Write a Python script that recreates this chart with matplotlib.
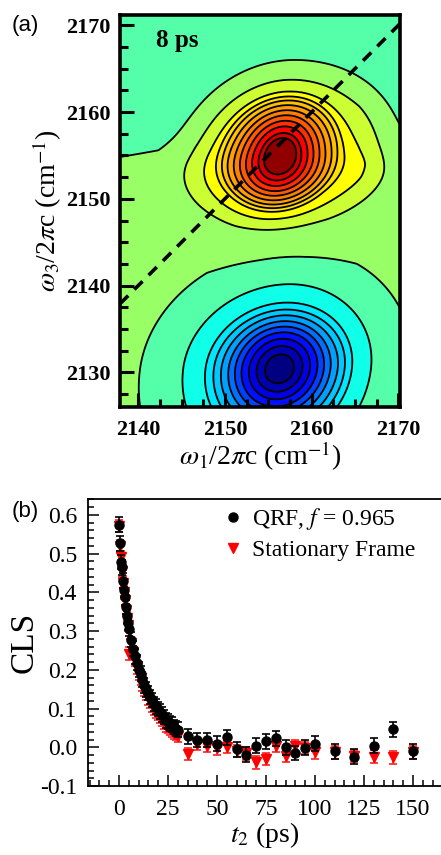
import numpy as np
import matplotlib
matplotlib.use("Agg")
import matplotlib.pyplot as plt
from matplotlib.colors import ListedColormap, BoundaryNorm
from matplotlib.lines import Line2D

plt.rcParams['mathtext.fontset'] = 'stix'
SERIF = ['Liberation Serif', 'DejaVu Serif']
SANS = ['Liberation Sans', 'DejaVu Sans']

# ---------------- panel (a): 2D IR spectrum (contour radii) ----------------
w1_range = [2137.9, 2170.2]
w3_range = [2126.0, 2171.2]
w_ticks = [2130, 2140, 2150, 2160, 2170]
diag = [2137.9, 2171.0]
waiting_label = '8 ps'

scale_knots = [0, 3, 7, 10, 60]      # radius knots for the direction-dependent widths

# positive peak: centre, radial level profile, widths (left, right, up, down), shear
pos_center = [2156.4, 2155.0]
pos_r = [0, 1.75, 2.29, 3.05, 3.73, 4.42, 5.07, 5.75, 6.4, 6.97, 7.6, 9.0, 11.0, 13.5, 18, 60]
pos_v = [13.0, 11.5, 10.5, 9.5, 8.5, 7.5, 6.5, 5.5, 4.5, 3.5, 2.5, 1.5, 0.55, 0.2, 0.05, 0.0]
pos_left = [0.92, 0.95, 1.0, 1.05, 1.05]
pos_right = [0.92, 0.95, 1.0, 1.2, 1.15]
pos_up = [1.14, 1.1, 0.97, 0.97, 0.97]
pos_down = [1.1, 1.0, 0.85, 0.8, 0.8]
pos_shear = 0.15

# negative peak
neg_center = [2156.3, 2130.4]
neg_r = [0, 1.71, 2.67, 3.54, 4.38, 5.14, 5.9, 6.74, 7.6, 8.57, 11.2, 14.7, 20, 30, 60]
neg_v = [-12.0, -10.5, -9.5, -8.5, -7.5, -6.5, -5.5, -4.5, -3.5, -2.5, -1.5, -0.65, -0.2,
         0.0, 0.0]
neg_left = [1.0, 1.0, 1.0, 1.0, 1.0]
neg_right = [1.0, 1.0, 1.0, 0.95, 0.85]
neg_up = [1.0, 1.0, 0.9, 0.88, 0.88]
neg_down = [1.0, 1.0, 1.0, 1.0, 1.0]
neg_shear = 0.12

plateau = [1.0, 2154.5, 0.0, 1.3]   # level, upper edge w3 (at 2154), edge slope, softness

band_colors = ['#000080', '#0000b0', '#0000e0', '#0010ff', '#0040ff', '#0070ff',
               '#00a0ff', '#00c8ff', '#00e8ff', '#10ffe8', '#55ffaa', '#99ff66',
               '#ccff33', '#ffff00', '#ffe000', '#ffc000', '#ffa000', '#ff8000',
               '#ff5a00', '#ff3000', '#ff0000', '#d00000', '#900000']
band_min = -10   # index of first colour band (zero band = '#55ffaa')


def radial(X, Y, center, left, right, up, down, shear):
    dy = Y - center[1]
    dx = X - center[0] - shear * dy
    r0 = np.sqrt(dx ** 2 + dy ** 2)
    sx = np.where(dx < 0, np.interp(r0, scale_knots, left), np.interp(r0, scale_knots, right))
    sy = np.where(dy >= 0, np.interp(r0, scale_knots, up), np.interp(r0, scale_knots, down))
    return np.sqrt((dx / sx) ** 2 + (dy / sy) ** 2)


x = np.linspace(w1_range[0], w1_range[1], 500)
y = np.linspace(w3_range[0], w3_range[1], 600)
X, Y = np.meshgrid(x, y)
Z = np.interp(radial(X, Y, pos_center, pos_left, pos_right, pos_up, pos_down, pos_shear),
              pos_r, pos_v)
Z = Z + np.interp(radial(X, Y, neg_center, neg_left, neg_right, neg_up, neg_down, neg_shear),
                  neg_r, neg_v)
edge = plateau[1] + plateau[2] * (X - 2154.0)
Z = Z + plateau[0] / (1 + np.exp((Y - edge) / plateau[3]))

nb = len(band_colors)
levels = np.arange(band_min, band_min + nb + 1) - 0.5
cmap = ListedColormap(band_colors)
norm = BoundaryNorm(levels, nb)

fig = plt.figure(figsize=(4.41, 8.55), dpi=100)

axa = fig.add_axes([120 / 441, 1 - 407 / 855, 280 / 441, 392 / 855])
Zc = np.clip(Z, levels[0] + 0.01, levels[-1] - 0.01)
axa.contourf(X, Y, Zc, levels=levels, cmap=cmap, norm=norm)
axa.contour(X, Y, Z, levels=levels[1:-1], colors='black', linewidths=1.3, linestyles='solid')
axa.plot(diag, diag, color='black', lw=2.6, ls=(0, (3.2, 2.4)))
axa.set_xlim(w1_range)
axa.set_ylim(w3_range)
axa.set_xticks([t for t in w_ticks if w1_range[0] <= t <= w1_range[1]])
axa.set_yticks(w_ticks)
axa.set_xticks(np.arange(2140, 2170.1, 2.5), minor=True)
axa.set_yticks(np.arange(2127.5, 2170.1, 2.5), minor=True)
axa.tick_params(which='both', direction='in', top=False, right=False, width=2.2, colors='black')
axa.tick_params(which='major', length=10)
axa.tick_params(which='minor', length=5.5)
axa.tick_params(axis='y', pad=7)
axa.tick_params(axis='x', pad=9)
for lab in axa.get_xticklabels() + axa.get_yticklabels():
    lab.set_fontfamily(SERIF)
    lab.set_fontweight('bold')
    lab.set_fontsize(16)
for s in axa.spines.values():
    s.set_linewidth(2.6)
axa.set_xlabel(r'$\omega_1$/2$\pi$c (cm$^{-1}$)', fontsize=20, family=SERIF, labelpad=0)
axa.set_ylabel(r'$\omega_3$/2$\pi$c (cm$^{-1}$)', fontsize=20, family=SERIF, labelpad=1)
axa.text(0.13, 0.935, waiting_label, transform=axa.transAxes, fontsize=18,
         fontweight='bold', family=SERIF, va='center', ha='left')
fig.text(12 / 441, 1 - 25 / 855, '(a)', fontsize=16, family=SANS, va='center', ha='left')

# ---------------- panel (b): CLS decay ----------------
t2 = [0, 0.5, 1, 1.5, 2, 2.5, 3, 3.5, 4, 4.5, 5,
      6, 7, 8, 9, 10, 11, 12, 13, 14, 15, 16, 17, 18, 19, 20,
      21, 22, 23, 24, 25, 26, 27, 28, 29, 30,
      35, 40, 45, 50, 55, 60, 65, 70, 75, 80, 85, 90, 95, 100,
      110, 120, 130, 140, 150]
cls_qrf = [0.575, 0.527, 0.478, 0.465, 0.430, 0.407, 0.387, 0.362, 0.340, 0.322, 0.305,
           0.278, 0.255, 0.235, 0.218, 0.200, 0.190, 0.175, 0.160, 0.150, 0.140,
           0.130, 0.122, 0.112, 0.106, 0.099, 0.092, 0.085, 0.078, 0.070, 0.066,
           0.062, 0.058, 0.052, 0.048, 0.045,
           0.028, 0.019, 0.019, 0.009, 0.026, -0.005, -0.019, 0.004, 0.015, 0.023,
           0.000, -0.015, -0.001, 0.009,
           -0.010, -0.024, 0.004, 0.046, -0.010]
cls_sf = [0.572, 0.520, 0.490, 0.455, 0.425, 0.400, 0.380, 0.355, 0.335, 0.315, 0.242,
          0.268, 0.245, 0.225, 0.205, 0.190, 0.178, 0.162, 0.148, 0.138, 0.126,
          0.118, 0.108, 0.100, 0.092, 0.086, 0.078, 0.070, 0.064, 0.055, 0.052,
          0.048, 0.042, 0.038, 0.034, 0.030,
          -0.017, 0.009, 0.004, -0.003, 0.000, -0.009, -0.016, -0.039, -0.030, 0.003,
          -0.022, 0.003, -0.002, -0.013,
          -0.013, -0.022, -0.024, -0.026, -0.013]
err_qrf = 0.019
err_sf = 0.016
label_qrf = r'QRF, $f$ = 0.965'
label_sf = 'Stationary Frame'

axb = fig.add_axes([88 / 441, 1 - 786 / 855, 353 / 441, 287 / 855])
axb.errorbar(t2, cls_sf, yerr=err_sf, fmt='v', color='#ff0000', ms=6.5, mec='#ff0000',
             ecolor='#ff2020', elinewidth=1.2, capsize=3, capthick=1.2, zorder=2)
axb.errorbar(t2, cls_qrf, yerr=err_qrf, fmt='o', color='black', ms=6.5,
             ecolor='black', elinewidth=1.2, capsize=3, capthick=1.2, zorder=3)
axb.set_xlim(-15.8, 164.3)
axb.set_ylim(-0.1, 0.641)
axb.set_xticks([0, 25, 50, 75, 100, 125, 150])
axb.set_xticks(np.arange(-15, 165, 5), minor=True)
axb.set_yticks([-0.1, 0.0, 0.1, 0.2, 0.3, 0.4, 0.5, 0.6])
axb.set_yticklabels(['-0.1', '0.0', '0.1', '0.2', '0.3', '0.4', '0.5', '0.6'])
axb.set_yticks(np.arange(-0.1, 0.641, 0.02), minor=True)
axb.tick_params(which='both', direction='in', top=False, right=False, width=1.1)
axb.tick_params(which='major', length=8)
axb.tick_params(which='minor', length=4.5)
axb.tick_params(axis='y', pad=8)
axb.tick_params(axis='x', pad=9)
for lab in axb.get_xticklabels() + axb.get_yticklabels():
    lab.set_fontfamily(SERIF)
    lab.set_fontsize(17)
for s in axb.spines.values():
    s.set_linewidth(1.3)
axb.spines['right'].set_visible(False)
axb.set_xlabel(r'$t_2$ (ps)', fontsize=20, family=SERIF, labelpad=0)
axb.set_ylabel('CLS', fontsize=24, family=SERIF, labelpad=0)
h1 = Line2D([], [], ls='none', marker='o', color='black', ms=6.5)
h2 = Line2D([], [], ls='none', marker='v', color='#ff0000', ms=6.5)
leg = axb.legend([h1, h2], [label_qrf, label_sf], loc='upper left',
                 bbox_to_anchor=((223.5 - 88) / 353, 0.975), frameon=False,
                 handlelength=0.8, handletextpad=0.4, labelspacing=0.3,
                 borderpad=0, borderaxespad=0,
                 prop={'family': SERIF, 'size': 17})
fig.text(12 / 441, 1 - 512 / 855, '(b)', fontsize=16, family=SANS, va='center', ha='left')

fig.savefig('out.png', dpi=100)
